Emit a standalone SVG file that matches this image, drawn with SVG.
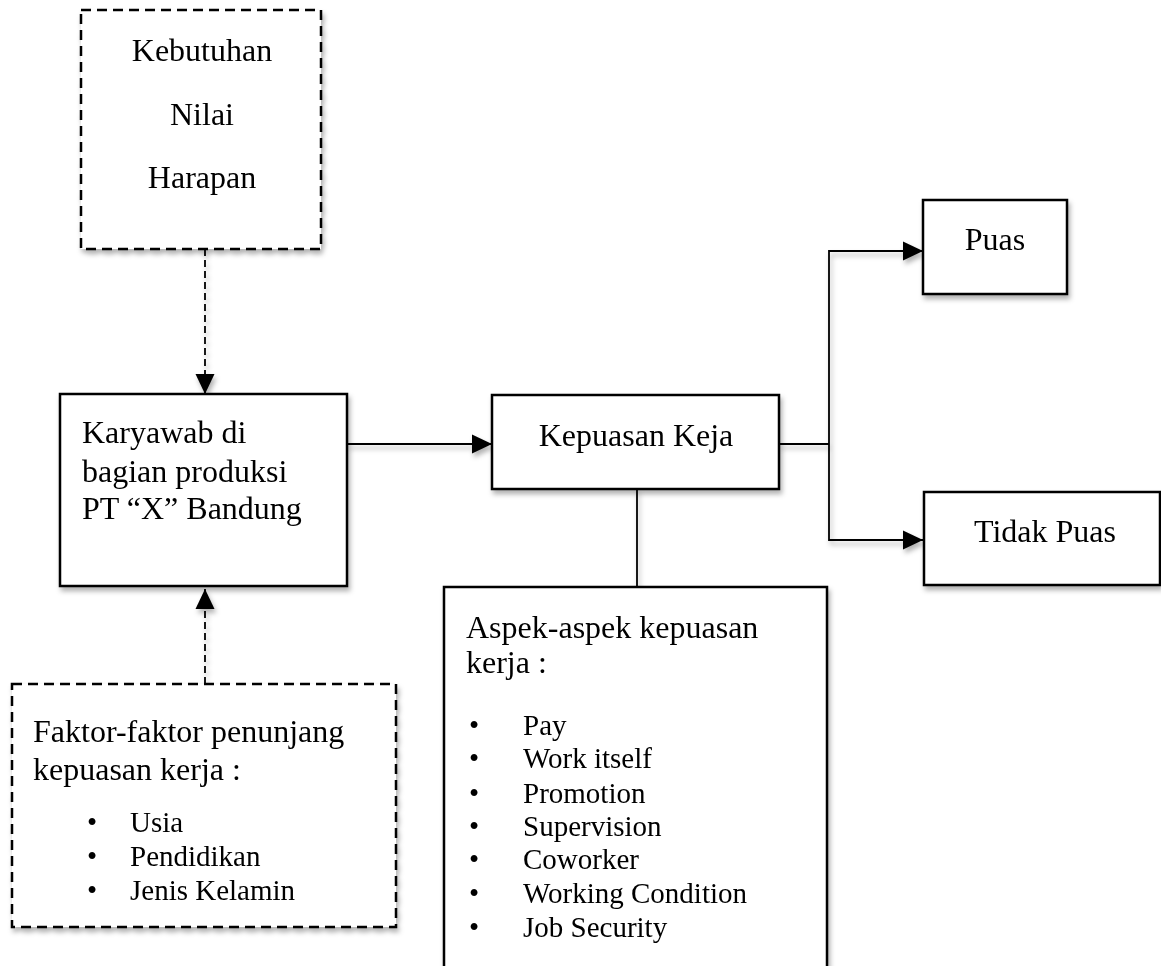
<svg xmlns="http://www.w3.org/2000/svg" width="1161" height="966" viewBox="0 0 1161 966">
<defs>
<filter id="sh" x="-10%" y="-10%" width="130%" height="130%">
<feDropShadow dx="2" dy="4" stdDeviation="2.5" flood-color="#000" flood-opacity="0.3"/>
</filter>
<marker id="arr" markerUnits="userSpaceOnUse" markerWidth="21" markerHeight="21" viewBox="0 0 21 21" refX="20" refY="10.5" orient="auto">
<path d="M0,1 L20,10.5 L0,20 Z" fill="#000"/>
</marker>
</defs>
<style>
.box{fill:#fff;stroke:#000;stroke-width:2.5}
.dbox{fill:#fff;stroke:#000;stroke-width:2.5;stroke-dasharray:10 6}
.t{font-family:"Liberation Serif","Times New Roman",serif;font-size:32px;fill:#000}
.s{font-family:"Liberation Serif","Times New Roman",serif;font-size:29px;fill:#000}
.c{text-anchor:middle}
.ln{fill:none;stroke:#000;stroke-width:1.8}
.dl{fill:none;stroke:#000;stroke-width:1.8;stroke-dasharray:7 4}
</style>
<rect width="1161" height="966" fill="#fff"/>
<g id="connectors" filter="url(#sh)">
<path class="dl" d="M205,249 V394" marker-end="url(#arr)"/>
<path class="dl" d="M205,684 V589" marker-end="url(#arr)"/>
<path class="ln" d="M347,444 H492" marker-end="url(#arr)"/>
<path class="ln" d="M779,444 H829"/>
<path class="ln" d="M829,444 V251 H923" marker-end="url(#arr)"/>
<path class="ln" d="M829,444 V540 H923" marker-end="url(#arr)"/>
<path class="ln" d="M637,489 V587"/>
</g>
<g id="node-kebutuhan" filter="url(#sh)">
<rect class="dbox" x="81" y="10" width="240" height="239"/>
<text class="t c" x="202" y="61">Kebutuhan</text>
<text class="t c" x="202" y="125">Nilai</text>
<text class="t c" x="202" y="188">Harapan</text>
</g>
<g id="node-karyawan" filter="url(#sh)">
<rect class="box" x="60" y="394" width="287" height="192"/>
<text class="t" x="82" y="443">Karyawab di</text>
<text class="t" x="82" y="482">bagian produksi</text>
<text class="t" x="82" y="519">PT “X” Bandung</text>
</g>
<g id="node-faktor" filter="url(#sh)">
<rect class="dbox" x="12" y="684" width="384" height="243"/>
<text class="t" x="33" y="742">Faktor-faktor penunjang</text>
<text class="t" x="33" y="780">kepuasan kerja :</text>
<text class="s" x="87" y="832">•</text><text class="s" x="130" y="832">Usia</text>
<text class="s" x="87" y="866">•</text><text class="s" x="130" y="866">Pendidikan</text>
<text class="s" x="87" y="900">•</text><text class="s" x="130" y="900">Jenis Kelamin</text>
</g>
<g id="node-kepuasan" filter="url(#sh)">
<rect class="box" x="492" y="395" width="287" height="94"/>
<text class="t c" x="636" y="446">Kepuasan Keja</text>
</g>
<g id="node-aspek" filter="url(#sh)">
<rect class="box" x="444" y="587" width="383" height="390"/>
<text class="t" x="466" y="638">Aspek-aspek kepuasan</text>
<text class="t" x="466" y="673">kerja :</text>
<text class="s" x="469" y="735">•</text><text class="s" x="523" y="735">Pay</text>
<text class="s" x="469" y="768">•</text><text class="s" x="523" y="768">Work itself</text>
<text class="s" x="469" y="803">•</text><text class="s" x="523" y="803">Promotion</text>
<text class="s" x="469" y="836">•</text><text class="s" x="523" y="836">Supervision</text>
<text class="s" x="469" y="869">•</text><text class="s" x="523" y="869">Coworker</text>
<text class="s" x="469" y="903">•</text><text class="s" x="523" y="903">Working Condition</text>
<text class="s" x="469" y="937">•</text><text class="s" x="523" y="937">Job Security</text>
</g>
<g id="node-puas" filter="url(#sh)">
<rect class="box" x="923" y="200" width="144" height="94"/>
<text class="t c" x="995" y="250">Puas</text>
</g>
<g id="node-tidakpuas" filter="url(#sh)">
<rect class="box" x="924" y="492" width="236" height="93"/>
<text class="t c" x="1045" y="542">Tidak Puas</text>
</g>
</svg>
